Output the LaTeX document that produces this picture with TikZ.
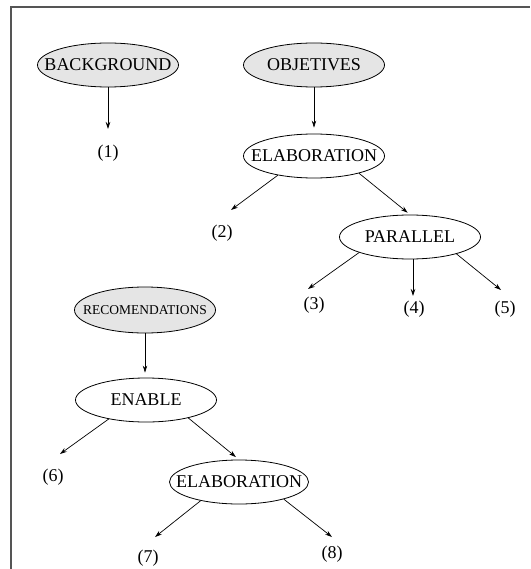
\documentclass[tikz,border=0pt]{standalone}
\usepackage{fontspec}
\setmainfont{Liberation Serif}
\usetikzlibrary{shapes.geometric,arrows.meta}
\definecolor{nodegray}{HTML}{E5E5E5}
\definecolor{framegray}{HTML}{555555}
\newcommand{\zw}[1]{\makebox[0pt]{#1}}
\tikzset{
  ell/.style={ellipse,draw,line width=0.8pt,minimum width=141pt,minimum height=44pt,inner sep=0pt,font=\fontsize{18}{20}\selectfont},
  top/.style={ell,fill=nodegray},
  lbl/.style={inner sep=0pt,font=\fontsize{18}{20}\selectfont},
  arr/.style={line width=0.7pt,-{Stealth[length=7pt,width=4.5pt]}},
  frame/.style={draw=framegray,line width=1.4pt}
}
\begin{document}
\begin{tikzpicture}[x=1pt,y=-1pt]
\useasboundingbox (0,0) rectangle (530,569);
\draw[frame] (11,569) -- (11,7) -- (530,7);
% nodes
\node[top] (bg) at (108,65) {\zw{BACKGROUND}};
\node[top] (obj) at (314,65) {\zw{OBJETIVES}};
\node[ell] (e1) at (314,156) {\zw{ELABORATION}};
\node[ell] (par) at (410,237) {\zw{PARALLEL}};
\node[top,minimum height=46pt,font=\fontsize{13.5}{15}\selectfont] (rec) at (145,310) {\zw{RECOMENDATIONS}};
\node[ell] (en) at (146,400) {\zw{ENABLE}};
\node[ell,minimum width=139pt] (e2) at (239,482) {\zw{ELABORATION}};
% labels
\node[lbl] (l1) at (108,153) {(1)};
\node[lbl] (l2) at (222,233) {(2)};
\node[lbl] (l3) at (314,305) {(3)};
\node[lbl] (l4) at (414,309) {(4)};
\node[lbl] (l5) at (505,309) {(5)};
\node[lbl] (l6) at (53,477) {(6)};
\node[lbl] (l7) at (148,558) {(7)};
\node[lbl] (l8) at (332,554) {(8)};
% arrow ends
\coordinate (a1) at (108,129);
\coordinate (a2) at (231,210);
\coordinate (a3) at (308,289);
\coordinate (a4) at (413,296);
\coordinate (a5) at (501,290);
\coordinate (a6) at (60,454);
\coordinate (a7) at (155,537);
\coordinate (a8) at (332,537);
% connectors
\draw[arr] (bg.south) -- (a1);
\draw[arr,shorten >=6pt] (obj.south) -- (obj.south |- e1.north);
\draw[arr] (e1.208) -- (a2);
\draw[arr,shorten >=3pt] (e1.339) -- (par.north);
\draw[arr] (par.197) -- (a3);
\draw[arr] (par.south -| a4) -- (a4);
\draw[arr] (par.340) -- (a5);
\draw[arr,shorten >=5pt] (rec.south) -- (rec.south |- en.north);
\draw[arr] (en.207) -- (a6);
\draw[arr,shorten >=4pt] (en.337) -- (e2.north);
\draw[arr] (e2.206) -- (a7);
\draw[arr] (e2.339) -- (a8);
\end{tikzpicture}
\end{document}
